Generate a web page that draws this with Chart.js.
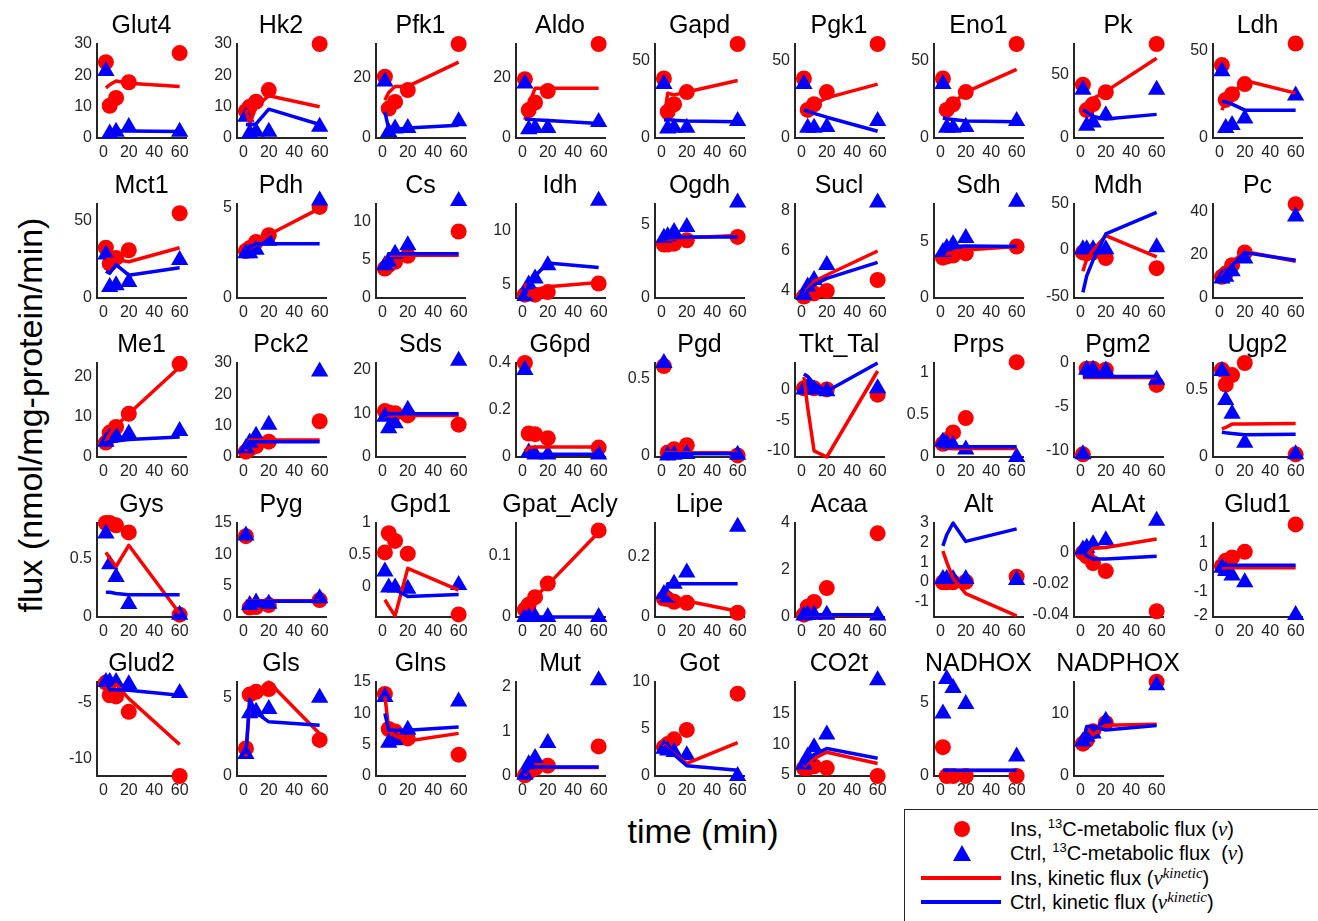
<!DOCTYPE html>
<html>
<head>
<meta charset="utf-8">
<title>Flux time courses</title>
<script src="https://cdn.jsdelivr.net/npm/chart.js@4.4.1/dist/chart.umd.min.js"></script>
<style>
    html, body { margin: 0; padding: 0; background: #fff; }
    body {
        width: 1318px; height: 921px; position: relative; overflow: hidden;
        font-family: "Liberation Sans", Arial, sans-serif; color: #000;
    }
    canvas.panel { position: absolute; }
    .ptitle {
        position: absolute; font-size: 25px; white-space: nowrap;
        transform: translate(-50%, -50%); line-height: 1;
    }
    #ylabel {
        position: absolute; left: 30px; top: 415px; font-size: 34px; white-space: nowrap;
        transform: translate(-50%, -50%) rotate(-90deg); line-height: 1;
    }
    #xlabel {
        position: absolute; left: 703px; top: 831px; font-size: 34px; white-space: nowrap;
        transform: translate(-50%, -50%); line-height: 1;
    }
    #legend {
        position: absolute; left: 904px; top: 809px; width: 440px; height: 140px;
        border: 1.5px solid #262626; box-sizing: border-box;
    }
    .lg-text {
        position: absolute; left: 1010px; font-size: 20px; white-space: nowrap;
        transform: translateY(-50%); line-height: 1;
    }
    .lg-text sup { font-size: 0.65em; vertical-align: 0.55em; line-height: 0; }
    .lg-text i { font-family: "Liberation Serif", "DejaVu Serif", serif; font-size: 1.05em; }
    .lg-text sup i { font-size: 1.15em; }
    .sym { position: absolute; }
</style>
</head>
<body>

<div id="ylabel">flux (nmol/mg-protein/min)</div>
<div id="xlabel">time (min)</div>

<div id="legend"></div>
<div class="sym" style="left:954px; top:821px; width:16px; height:16px; border-radius:50%; background:#ff0000;"></div>
<div class="sym" style="left:953px; top:845px; width:0; height:0; border-left:9px solid transparent; border-right:9px solid transparent; border-bottom:16px solid #0000ff;"></div>
<div class="sym" style="left:921px; top:876px; width:80px; height:4px; background:#ff0000;"></div>
<div class="sym" style="left:921px; top:900px; width:80px; height:4px; background:#0000ff;"></div>
<div class="lg-text" style="top:829px;">Ins, <sup>13</sup>C-metabolic flux (<i>v</i>)</div>
<div class="lg-text" style="top:853px;">Ctrl, <sup>13</sup>C-metabolic flux&nbsp; (<i>v</i>)</div>
<div class="lg-text" style="top:878px;">Ins, kinetic flux (<i>v</i><sup><i>kinetic</i></sup>)</div>
<div class="lg-text" style="top:902px;">Ctrl, kinetic flux (<i>v</i><sup><i>kinetic</i></sup>)</div>

<script>
// Sampling times (min) and x tick labels
const times = [2, 5, 10, 20, 60];
const xTicks = [0, 20, 40, 60];

// Reaction names, one panel each
const names = [
    'Glut4', 'Hk2', 'Pfk1', 'Aldo', 'Gapd', 'Pgk1', 'Eno1', 'Pk', 'Ldh',
    'Mct1', 'Pdh', 'Cs', 'Idh', 'Ogdh', 'Sucl', 'Sdh', 'Mdh', 'Pc',
    'Me1', 'Pck2', 'Sds', 'G6pd', 'Pgd', 'Tkt_Tal', 'Prps', 'Pgm2', 'Ugp2',
    'Gys', 'Pyg', 'Gpd1', 'Gpat_Acly', 'Lipe', 'Acaa', 'Alt', 'ALAt', 'Glud1',
    'Glud2', 'Gls', 'Glns', 'Mut', 'Got', 'CO2t', 'NADHOX', 'NADPHOX'
];

// y axis limits per panel
const yLimits = [
    [0, 30], [0, 30], [0, 31], [0, 31], [0, 61], [0, 61], [0, 61], [0, 74], [0, 54],
    [0, 61], [0, 5.2], [0, 12.3], [3.75, 12.5], [0, 6.4], [3.65, 8.35], [0, 8.4], [-52, 50], [0, 43.5],
    [0, 23.5], [0, 30], [0, 21.5], [0, 0.4], [-0.01, 0.6], [-11, 4.3], [0, 1.11], [-10.7, 0], [0, 0.7],
    [0, 0.8], [0, 15], [-0.47, 1], [0, 0.152], [0, 0.31], [0, 4], [-1.8, 3], [-0.0415, 0.0193], [-2.05, 1.8],
    [-11.6, -3.1], [0, 6], [0, 15], [0, 2.1], [0, 10], [4.8, 20.2], [0, 6.4], [0, 15]
];

// y tick labels per panel
const yTicks = [
    [0, 10, 20, 30], [0, 10, 20, 30], [0, 20], [0, 20], [0, 50], [0, 50], [0, 50], [0, 50], [0, 50],
    [0, 50], [0, 5], [0, 5, 10], [5, 10], [0, 5], [4, 6, 8], [0, 5], [-50, 0, 50], [0, 20, 40],
    [0, 10, 20], [0, 10, 20, 30], [0, 10, 20], [0, 0.2, 0.4], [0, 0.5], [-10, -5, 0], [0, 0.5, 1], [-10, -5, 0], [0, 0.5],
    [0, 0.5], [0, 5, 10, 15], [0, 0.5, 1], [0, 0.1], [0, 0.2], [0, 2, 4], [-1, 0, 1, 2, 3], [-0.04, -0.02, 0], [-2, -1, 0, 1],
    [-10, -5], [0, 5], [0, 5, 10, 15], [0, 1, 2], [0, 5, 10], [5, 10, 15], [0, 5], [0, 10]
];

// Ins, 13C-metabolic flux (red circles)
const insFlux = [
    [24.2, 10.3, 12.8, 17.8, 27.1], [8.6, 10, 11.6, 15.3, 30], [20.2, 9.7, 11.9, 15.8, 31],
    [19.4, 9.2, 11.7, 15.5, 31], [38.6, 17.1, 21.9, 29.8, 61], [38.6, 18.2, 21.9, 29.8, 61],
    [38.6, 18.2, 21.9, 29.8, 61], [42, 22, 26.6, 36, 74], [41.9, 21.9, 25.2, 31, 54.3],
    [32.6, 22.4, 26, 31, 55], [2.6, 2.76, 3.1, 3.47, 5.04], [3.86, 4.3, 4.74, 5.53, 8.7],
    [4.06, 4.16, 4.06, 4.3, 5.1], [3.64, 3.64, 3.7, 3.93, 4.16], [3.72, 3.88, 3.88, 4.0, 4.55],
    [3.6, 3.7, 3.8, 4.0, 4.6], [-2.5, -3.6, -2.5, -8.7, -19.6], [9.8, 11.3, 15.2, 21.1, 43.4],
    [3.6, 6.1, 7.5, 10.8, 23.3], [1.7, 2.5, 3.5, 4.9, 11.4], [10.5, 10.2, 10, 9.5, 7.4],
    [0.4, 0.1, 0.097, 0.08, 0.04], [0.58, 0.02, 0.04, 0.067, 0], [0.17, 0.4, 0.17, 0, -0.85],
    [0.155, 0.2, 0.29, 0.46, 1.12], [-10.4, -0.65, -0.65, -0.77, -2.5], [0.65, 0.54, 0.61, 0.7, 0.02],
    [0.8, 0.8, 0.78, 0.72, 0.02], [12.9, 1.5, 1.6, 1.9, 2.7], [0.54, 0.84, 0.72, 0.52, -0.43],
    [0.012, 0.02, 0.032, 0.054, 0.14], [0.061, 0.059, 0.05, 0.047, 0.014], [0.1, 0.44, 0.64, 1.23, 3.56],
    [-0.03, -0.03, -0.03, 0, 0.26], [0, -0.0022, -0.0067, -0.0118, -0.0378], [0.03, 0.25, 0.39, 0.62, 1.74],
    [-3.15, -4.3, -4.4, -5.8, -11.6], [1.76, 5.2, 5.37, 5.55, 2.3], [13.1, 7.5, 7.1, 6.0, 3.4],
    [0.015, 0.09, 0.17, 0.23, 0.66], [3.07, 3.4, 3.9, 4.9, 8.76], [6.1, 6.1, 6.4, 6.1, 4.8],
    [1.96, 0, 0, 0, 0], [5.16, 5.7, 7.14, 8.46, 15.05]
];

// Ctrl, 13C-metabolic flux (blue triangles)
const ctrlFlux = [
    [21.4, 1.4, 2, 3.5, 2], [6.8, 1.5, 2, 2, 3.6], [18.6, 2, 3.1, 3.3, 5.5],
    [18, 2.9, 3.3, 3.3, 5.3], [35, 6.1, 6.6, 6.6, 11], [35, 6.6, 6.6, 7.2, 11],
    [35, 6.6, 6.6, 7.2, 11], [38, 9.6, 12.2, 18, 38], [38.4, 5.8, 7.4, 11.2, 24.4],
    [28.3, 7.2, 8.3, 10.4, 24.6], [2.48, 2.48, 2.67, 3.17, 5.4], [4.3, 4.74, 5.8, 6.9, 12.7],
    [3.94, 5, 5.56, 6.8, 12.8], [4.1, 4.2, 4.5, 4.84, 6.5], [3.8, 4.22, 4.55, 5.3, 8.43],
    [4.1, 4.46, 4.8, 5.36, 8.6], [1, 1, 1, 1, 3], [9, 9.8, 12.4, 18.3, 37.7],
    [3.8, 4.8, 5.25, 5.8, 6.5], [2.8, 4.6, 6.75, 10.3, 27.3], [9.2, 6.6, 7.7, 10.8, 22],
    [0.37, 0.019, 0.011, 0.011, 0.011], [0.6, 0, 0.005, 0.01, 0.005], [0, 0.3, 0, -0.3, 0.17],
    [0.18, 0.16, 0.14, 0.09, 0], [-10.4, -0.77, -0.77, -0.85, -1.9], [0.64, 0.425, 0.323, 0.107, 0.02],
    [0.71, 0.45, 0.34, 0.11, 0.02], [13, 1.9, 2.3, 2.1, 3], [0.24, -0.01, -0.01, -0.03, 0.03],
    [0, 0, 0, 0, 0], [0.076, 0.064, 0.11, 0.147, 0.298], [0.06, 0.1, 0.1, 0.1, 0.06],
    [0.14, 0.14, 0.14, 0.14, 0.09], [0.0022, 0.0033, 0.0056, 0.0082, 0.0207], [-0.03, -0.17, -0.35, -0.63, -1.97],
    [-3.1, -3.1, -3.1, -3.3, -4.1], [1.41, 4, 4.1, 4.27, 5.0], [12.6, 5.3, 5.7, 7.4, 11.9],
    [0.03, 0.26, 0.4, 0.74, 2.14], [2.9, 2.7, 2.55, 2.2, 0], [6.7, 8, 9.5, 11.6, 20.5],
    [4.25, 6.6, 6.0, 4.9, 1.33], [5.5, 6.26, 6.8, 8.8, 14.5]
];

// Ins, kinetic flux (red lines)
const insKinetic = [
    [16, 17, 18.2, 17.5, 16.4], [9, 4.5, 10, 13.5, 10], [12.5, 15, 17, 17, 25],
    [6, 11, 16.4, 16.4, 16.4], [12.7, 29, 28, 29.8, 37.3], [19, 19.3, 22, 26, 35],
    [15, 17, 22.6, 29.8, 44.5], [20, 28, 31, 36.7, 62.8], [16, 21, 25, 33, 25.8],
    [25.2, 25.2, 25, 23.5, 32.6], [2.6, 2.75, 2.95, 3.5, 4.96], [4.95, 5.6, 5.6, 5.6, 5.6],
    [5.1, 4.0, 4.5, 4.8, 5.2], [3.9, 4.0, 4.05, 4.1, 4.25], [3.7, 4.1, 4.47, 4.8, 6.0],
    [3.8, 3.95, 4.1, 4.3, 4.6], [-23, -10, 0, 15.6, -7.3], [10, 12, 16.7, 21.5, 17],
    [3.8, 5.7, 7.75, 10.8, 22.5], [1.9, 5.4, 5.4, 5.4, 5.4], [9.4, 9.5, 9.5, 9.5, 9.5],
    [0.025, 0.04, 0.043, 0.043, 0.043], [0.015, 0.018, 0.018, 0.018, 0.018], [2, -3, -10, -11, 3],
    [0.13, 0.11, 0.1, 0.1, 0.1], [-1.65, -1.65, -1.65, -1.65, -1.65], [0.21, 0.22, 0.245, 0.245, 0.25],
    [0.55, 0.5, 0.43, 0.61, 0.03], [2.5, 2.6, 2.6, 2.6, 2.6], [-0.2, -0.3, -0.45, 0.29, -0.05],
    [0.011, 0.02, 0.032, 0.052, 0.137], [0.068, 0.08, 0.058, 0.053, 0.019], [0.08, 0.08, 0.08, 0.08, 0.08],
    [1.57, 1.0, 0.17, -0.61, -1.74], [0, -0.002, 0.003, 0.0035, 0.009], [-0.03, -0.03, -0.03, -0.03, -0.03],
    [-3.2, -4.1, -3.3, -4.6, -8.75], [1.25, 4.8, 5.1, 6, 2.7], [12.7, 7.5, 6.4, 5.6, 6.8],
    [0.015, 0.18, 0.19, 0.19, 0.19], [3.36, 2.9, 2.34, 1.35, 3.54], [6.3, 7, 7.7, 8.7, 6.85],
    [0.38, 0.38, 0.38, 0.38, 0.38], [5.6, 7.7, 6.6, 8.1, 8.24]
];

// Ctrl, kinetic flux (blue lines)
const ctrlKinetic = [
    [2, 2, 2.2, 2.2, 2.1], [4.3, 4.2, 4.5, 9.2, 4.3], [8.6, 3, 2.8, 3.3, 4.2],
    [6.3, 6.2, 6, 5.8, 4.8], [11.6, 12, 11.5, 11, 10.5], [18.2, 17.5, 16, 13.5, 4.4],
    [13, 12.5, 12, 11, 10.5], [22, 20.5, 17, 15, 18.6], [21, 20.8, 19.5, 16, 16],
    [17.4, 16, 21.7, 14.8, 19.6], [2.55, 2.8, 3.0, 3.0, 3.0], [4.3, 5.8, 5.8, 5.8, 5.8],
    [4, 5, 5.8, 7, 6.6], [3.9, 4.1, 4.1, 4.15, 4.15], [3.7, 4.0, 4.3, 4.63, 5.43],
    [3.7, 4.6, 4.6, 4.65, 4.6], [-46, -28, -11, 17.5, 41], [9, 11.5, 15.2, 21, 17.5],
    [3.6, 3.8, 4, 4.4, 5], [2.5, 4.9, 4.9, 4.9, 4.9], [9.4, 9.9, 9.9, 9.9, 9.9],
    [0.012, 0.012, 0.012, 0.012, 0.012], [0.011, 0.011, 0.011, 0.011, 0.011], [2.5, 2.1, 0.9, -0.3, 4.3],
    [0.12, 0.12, 0.12, 0.12, 0.12], [-1.55, -1.55, -1.55, -1.55, -1.55], [0.185, 0.18, 0.175, 0.165, 0.17],
    [0.21, 0.21, 0.2, 0.19, 0.19], [2.4, 2.5, 2.5, 2.5, 2.5], [-0.01, -0.02, -0.04, -0.15, -0.12],
    [0, 0, 0, 0, 0], [0.06, 0.11, 0.11, 0.11, 0.11], [0.1, 0.1, 0.1, 0.1, 0.1],
    [1.83, 2.4, 3, 2.06, 2.7], [0.001, -0.002, -0.004, -0.004, -0.0022], [0.07, 0.07, 0.07, 0.07, 0.07],
    [-3.1, -3.8, -3.8, -3.85, -4.3], [1.4, 4.9, 4.05, 3.46, 3.24], [10, 7.3, 7.3, 7.3, 7.8],
    [0.05, 0.18, 0.2, 0.2, 0.2], [3.17, 2.8, 2.26, 1.1, 0.62], [6.6, 7.4, 8.3, 9.3, 7.7],
    [0.4, 0.4, 0.4, 0.4, 0.4], [5.3, 7.9, 7.9, 7.35, 8.06]
];

// Grid layout (page pixels)
const NCOL = 9;
const AXIS_X0 = 97, COL_STEP = 139.5;   // y-axis line of first column
const AXIS_B0 = 138, ROW_STEP = 159.5;  // x-axis line of first row
const PLOT_W = 89, PLOT_H = 94;
const GUTTER_L = 52, PAD_T = 16, PAD_R = 14, GUTTER_B = 26;
const X_MIN = -5, X_MAX = 65;

const RED = '#ff0000';
const BLUE = '#0000ff';
const AXIS_COLOR = '#262626';
const FONT = '"Liberation Sans", Arial, sans-serif';

/**
 * Pair each value with its sampling time
 */
function toPoints(values) {
    return values.map((v, k) => ({ x: times[k], y: v }));
}

/**
 * Build one small panel: canvas + title
 */
function makePanel(i) {
    const col = i % NCOL;
    const row = Math.floor(i / NCOL);
    const axisX = AXIS_X0 + col * COL_STEP;
    const bottom = AXIS_B0 + row * ROW_STEP;
    const top = bottom - PLOT_H;

    const canvas = document.createElement('canvas');
    canvas.className = 'panel';
    canvas.width = GUTTER_L + PLOT_W + PAD_R;
    canvas.height = PAD_T + PLOT_H + GUTTER_B;
    canvas.style.left = (axisX - GUTTER_L) + 'px';
    canvas.style.top = (top - PAD_T) + 'px';
    document.body.appendChild(canvas);

    const title = document.createElement('div');
    title.className = 'ptitle';
    title.textContent = names[i];
    title.style.left = (axisX + PLOT_W / 2) + 'px';
    title.style.top = (top - 20) + 'px';
    document.body.appendChild(title);

    const tickFont = { family: FONT, size: 16 };

    new Chart(canvas, {
        type: 'scatter',
        data: {
            datasets: [
                {
                    data: toPoints(ctrlKinetic[i]), showLine: true,
                    borderColor: BLUE, borderWidth: 3.5, borderJoinStyle: 'round',
                    pointRadius: 0, tension: 0, clip: false
                },
                {
                    data: toPoints(insKinetic[i]), showLine: true,
                    borderColor: RED, borderWidth: 3.5, borderJoinStyle: 'round',
                    pointRadius: 0, tension: 0, clip: false
                },
                {
                    data: toPoints(ctrlFlux[i]), pointStyle: 'triangle', pointRadius: 10,
                    pointBackgroundColor: BLUE, pointBorderWidth: 0, clip: false
                },
                {
                    data: toPoints(insFlux[i]), pointStyle: 'circle', pointRadius: 8,
                    pointBackgroundColor: RED, pointBorderWidth: 0, clip: false
                }
            ]
        },
        options: {
            responsive: false,
            animation: false,
            devicePixelRatio: 1,
            layout: { padding: { top: PAD_T, right: PAD_R, left: 0, bottom: 0 } },
            plugins: { legend: { display: false }, tooltip: { enabled: false } },
            scales: {
                x: {
                    type: 'linear', min: X_MIN, max: X_MAX,
                    afterBuildTicks: axis => { axis.ticks = xTicks.map(v => ({ value: v })); },
                    afterFit: axis => { axis.height = GUTTER_B; },
                    grid: { display: false, drawTicks: false },
                    border: { display: true, color: AXIS_COLOR, width: 2 },
                    ticks: { padding: 5, font: tickFont, color: AXIS_COLOR, maxRotation: 0, autoSkip: false }
                },
                y: {
                    type: 'linear', min: yLimits[i][0], max: yLimits[i][1],
                    afterBuildTicks: axis => { axis.ticks = yTicks[i].map(v => ({ value: v })); },
                    afterFit: axis => { axis.width = GUTTER_L; },
                    grid: { display: false, drawTicks: false },
                    border: { display: true, color: AXIS_COLOR, width: 2 },
                    ticks: {
                        padding: 5, font: tickFont, color: AXIS_COLOR, autoSkip: false,
                        callback: v => String(v)
                    }
                }
            }
        }
    });
}

names.forEach((name, i) => makePanel(i));
</script>
</body>
</html>
